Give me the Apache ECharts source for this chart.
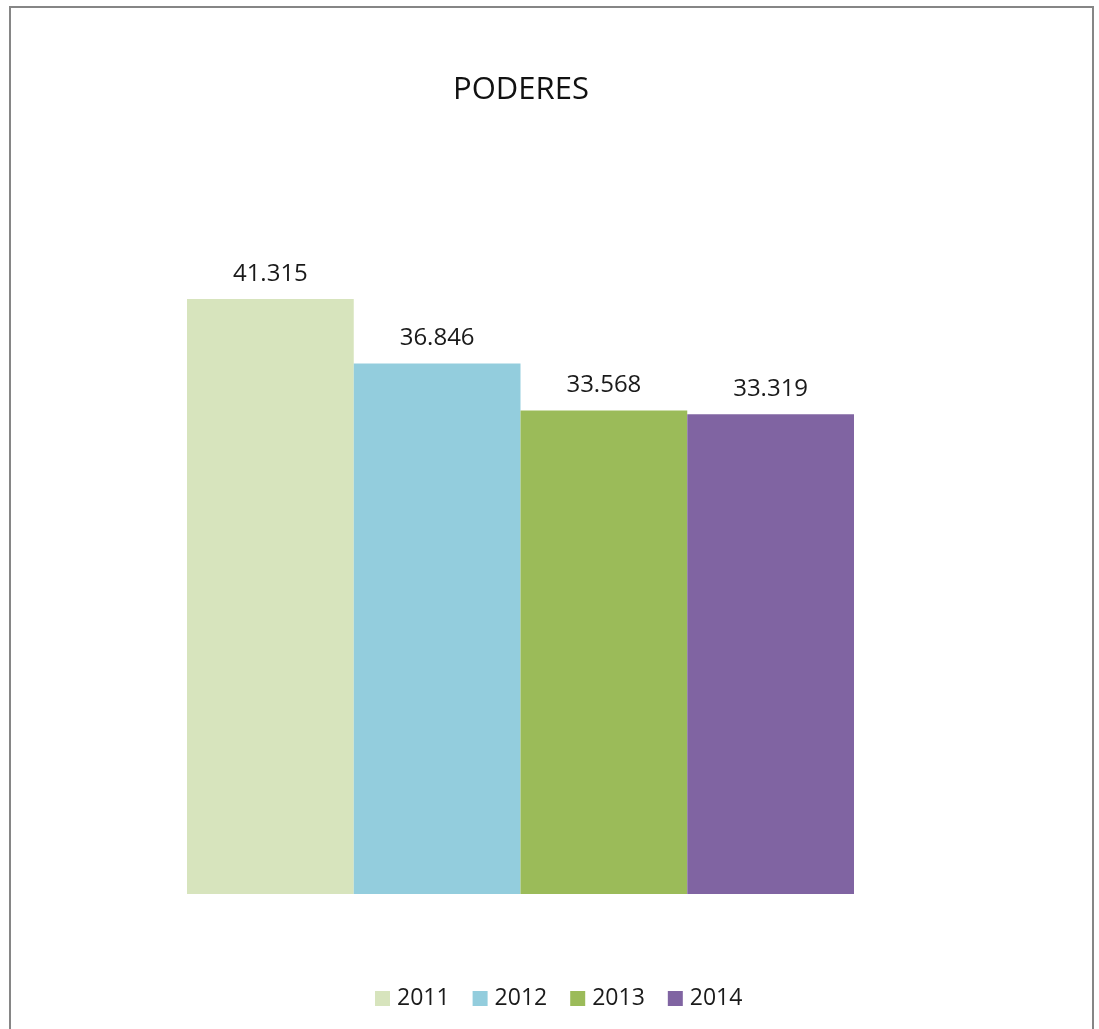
<!DOCTYPE html>
<html>
<head>
<meta charset="utf-8">
<script src="https://cdn.jsdelivr.net/npm/echarts@6/dist/echarts.min.js"></script>
<style>
  html, body { margin: 0; padding: 0; background: #fff; }
  #chart { width: 1099px; height: 1029px; }
</style>
</head>
<body>
<div id="chart"></div>
<script>
const categories = ['PODERES']
const years = ['2011', '2012', '2013', '2014']
const values = [41.315, 36.846, 33.568, 33.319]
const colors = ['#D7E4BD', '#93CDDD', '#9BBB59', '#8064A2']

const chart = echarts.init(document.getElementById('chart'))

const series = years.map((y, i) => ({
  name: y,
  type: 'bar',
  barGap: '0%',
  barCategoryGap: '0%',
  itemStyle: { color: colors[i] },
  label: {
    show: true,
    position: 'top',
    distance: 13,
    color: '#1a1a1a',
    fontSize: 24,
    fontFamily: 'Open Sans',
    formatter: p => p.value.toFixed(3),
  },
  data: [values[i]],
}))

chart.setOption({
  animation: false,
  backgroundColor: '#fff',
  textStyle: { fontFamily: 'Open Sans', color: '#1a1a1a' },
  title: {
    text: 'PODERES',
    left: 516,
    textAlign: 'center',
    top: 70,
    textStyle: { fontSize: 31, fontWeight: 'normal', color: '#111', fontFamily: 'Open Sans' },
  },
  graphic: [
    {
      type: 'rect',
      shape: { x: 10, y: 7, width: 1083, height: 1040 },
      style: { fill: 'none', stroke: '#868686', lineWidth: 2 },
      silent: true,
    },
  ],
  legend: {
    left: 370,
    top: 982,
    itemWidth: 15,
    itemHeight: 15,
    itemGap: 23,
    icon: 'rect',
    textStyle: { fontSize: 23, color: '#1a1a1a', fontFamily: 'Open Sans', padding: [0, 0, 0, 2] },
    data: years,
  },
  grid: { left: 187, right: 245, top: 174, bottom: 135 },
  xAxis: {
    type: 'category',
    data: categories,
    show: false,
  },
  yAxis: {
    type: 'value',
    min: 0,
    max: 50,
    show: false,
  },
  series,
})
</script>
</body>
</html>
